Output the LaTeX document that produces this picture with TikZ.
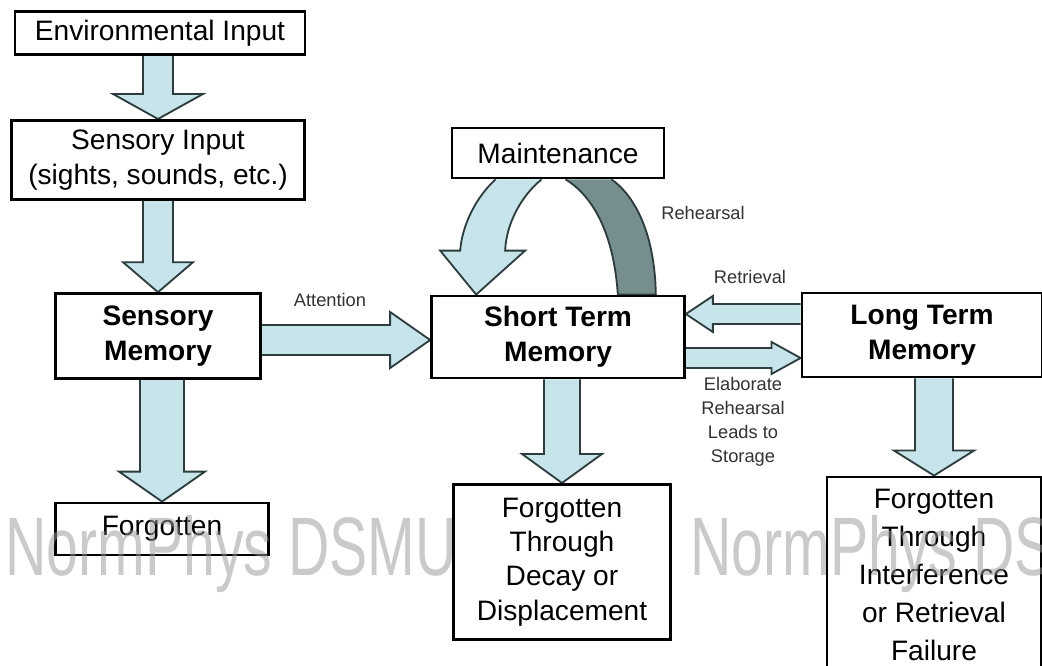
\documentclass[tikz,border=0pt]{standalone}
\usepackage{fontspec}
\setmainfont{Liberation Sans}
\usetikzlibrary{calc}

\definecolor{flowblue}{RGB}{198,228,234}
\definecolor{flowline}{RGB}{45,60,60}
\definecolor{loopgray}{RGB}{118,142,142}
\definecolor{markgray}{RGB}{150,150,150}

\pgfdeclarelayer{bg}
\pgfsetlayers{bg,main}

\newcommand{\boxfont}{\fontsize{20}{25}\selectfont}
\newcommand{\notefont}{\fontsize{13}{17}\selectfont}

% block arrows: from, to, shaft half width, head half width, head length
\newcommand{\flowdown}[5]{%
  \draw[flow] ($(#1.south -| #2.north)+(-#3,0)$) -- ($(#2.north)+(-#3,-#5)$)
    -- ($(#2.north)+(-#4,-#5)$) -- (#2.north) -- ($(#2.north)+(#4,-#5)$)
    -- ($(#2.north)+(#3,-#5)$) -- ($(#1.south -| #2.north)+(#3,0)$);}
% side arrows: from, to, y offset, shaft half width, head half width, head length
\newcommand{\flowright}[6]{%
  \draw[flow] ($(#1.east |- #2.west)+(0,#3-#4)$) -- ($(#2.west)+(-#6,#3-#4)$)
    -- ($(#2.west)+(-#6,#3-#5)$) -- ($(#2.west)+(0,#3)$) -- ($(#2.west)+(-#6,#3+#5)$)
    -- ($(#2.west)+(-#6,#3+#4)$) -- ($(#1.east |- #2.west)+(0,#3+#4)$);}
\newcommand{\flowleft}[6]{%
  \draw[flow] ($(#1.west |- #2.east)+(0,#3-#4)$) -- ($(#2.east)+(#6,#3-#4)$)
    -- ($(#2.east)+(#6,#3-#5)$) -- ($(#2.east)+(0,#3)$) -- ($(#2.east)+(#6,#3+#5)$)
    -- ($(#2.east)+(#6,#3+#4)$) -- ($(#1.west |- #2.east)+(0,#3+#4)$);}

\begin{document}
\begin{tikzpicture}[x=0.025cm, y=-0.025cm,
    box/.style={draw, line width=2pt, fill=white, inner sep=0pt, align=center, font=\boxfont},
    flow/.style={draw=flowline, line width=1.3pt, fill=flowblue, line join=miter},
    note/.style={font=\notefont, text=black!80, align=center, inner sep=0pt},
    watermark/.style={font=\fontsize{59}{60}\selectfont, text=markgray, opacity=0.5, anchor=base west, inner sep=0pt},
  ]
  \clip (0,0) rectangle (1042,666);

  \node[box, minimum width=7.25cm, minimum height=1.08cm] (env) at (160,33) {Environmental Input};
  \node[box, minimum width=7.32cm, minimum height=1.98cm] (sense) at (158,160) {Sensory Input\\(sights, sounds, etc.)};
  \node[box, minimum width=5.12cm, minimum height=2.12cm, font=\boxfont\bfseries] (sm) at (158,336) {Sensory\\Memory};
  \node[box, minimum width=5.32cm, minimum height=1.30cm] (lost) at (162,529) {Forgotten};
  \node[box, minimum width=5.30cm, minimum height=1.25cm] (maint) at (558,153) {Maintenance};
  \node[box, minimum width=6.32cm, minimum height=2.05cm, font=\boxfont\bfseries] (stm) at (558,337) {Short Term\\Memory};
  \node[box, minimum width=6.00cm, minimum height=2.10cm, font=\boxfont\bfseries] (ltm) at (922,335) {Long Term\\Memory};
  \node[box, minimum width=5.42cm, minimum height=3.88cm, font=\fontsize{20}{24.5}\selectfont] (decay) at (562,562) {Forgotten\\Through\\Decay or\\Displacement};
  \node[box, minimum width=5.35cm, minimum height=4.90cm, font=\fontsize{20}{27}\selectfont] (fail) at (934,575) {Forgotten\\Through\\Interference\\or Retrieval\\Failure};

  \node[note] (attn) at (330,300) {Attention};
  \node[note] (rehearse) at (703,213) {Rehearsal};
  \node[note] (fetch) at (750,277) {Retrieval};
  \node[note] (store) at (743,422) {Elaborate\\Rehearsal\\Leads to\\Storage};

  \begin{pgfonlayer}{bg}
    \fill[white] (0,0) rectangle (1042,666);
    \flowdown{env}{sense}{15}{45}{25}
    \flowdown{sense}{sm}{15}{35}{30}
    \flowdown{sm}{lost}{22}{43}{30}
    \flowdown{stm}{decay}{18}{40}{29}
    \flowdown{ltm}{fail}{19}{40}{25}
    \flowright{sm}{stm}{3}{15}{28}{40}
    \flowleft{ltm}{stm}{-23}{10}{18}{27}
    \flowright{stm}{ltm}{23}{10}{16}{29}
    % maintenance loop
    \draw[flow, fill=loopgray] ($(maint.south west)+(115,0)$)
      .. controls ($(maint.south west)+(143,17)$) and ($(stm.north east)+(-72,-60)$) .. ($(stm.north east)+(-68,0)$)
      -- ($(stm.north east)+(-30,0)$)
      .. controls ($(stm.north east)+(-31,-60)$) and ($(maint.south west)+(185,17)$) .. ($(maint.south west)+(161,0)$);
    \draw[flow] ($(maint.south west)+(45,0)$)
      .. controls ($(maint.south west)+(26,17)$) and ($(stm.north west)+(32,-70)$) .. ($(stm.north west)+(30,-44)$)
      -- ($(stm.north west)+(10,-44)$) -- ($(stm.north west)+(46,0)$) -- ($(stm.north west)+(95,-44)$)
      -- ($(stm.north west)+(75,-44)$)
      .. controls ($(stm.north west)+(76,-70)$) and ($(maint.south west)+(70,17)$) .. ($(maint.south west)+(91,0)$);
  \end{pgfonlayer}

  \node[watermark] (mark1) at (5,575) {\scalebox{0.69}[1]{NormPhys DSMU}};
  \node[watermark] (mark2) at (690,575) {\scalebox{0.69}[1]{NormPhys DSMU}};
\end{tikzpicture}
\end{document}
